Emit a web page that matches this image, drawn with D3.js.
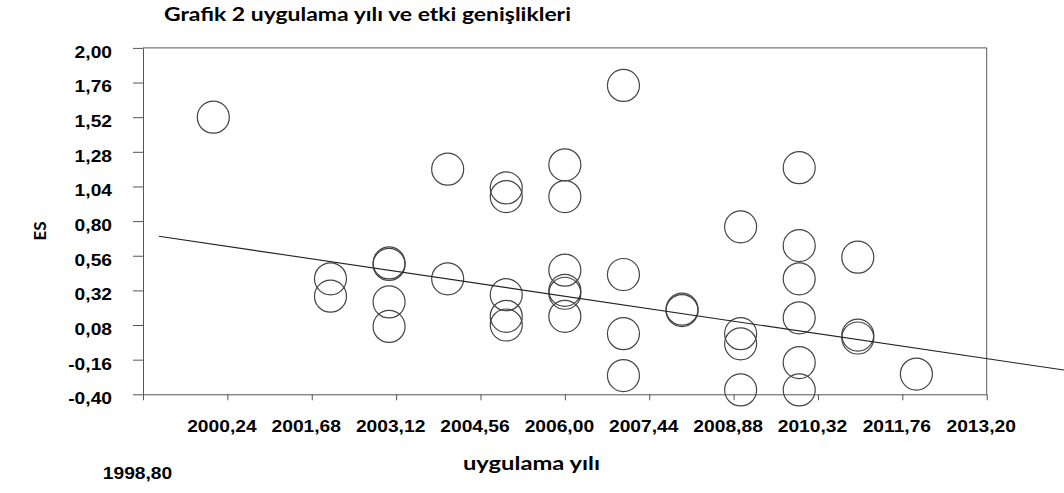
<!DOCTYPE html>
<html>
<head>
<meta charset="utf-8">
<script src="https://cdn.jsdelivr.net/npm/d3@7"></script>
<style>
  html, body { margin: 0; padding: 0; background: #fff; }
  svg { display: block; }
</style>
</head>
<body>
<svg id="chart" width="1064" height="493"></svg>
<script>
// ---- data ----
const titleText = "Grafik 2 uygulama yılı ve etki genişlikleri";
const xTitleText = "uygulama yılı";
const yTitleText = "ES";

const years = [2000,
  2002, 2002,
  2003, 2003, 2003, 2003,
  2004, 2004,
  2005, 2005, 2005, 2005, 2005,
  2006, 2006, 2006, 2006, 2006, 2006,
  2007, 2007, 2007, 2007,
  2008, 2008,
  2009, 2009, 2009, 2009,
  2010, 2010, 2010, 2010, 2010, 2010,
  2011, 2011, 2011,
  2012];
const es = [1.52,
  0.40, 0.28,
  0.51, 0.50, 0.24, 0.07,
  1.16, 0.40,
  1.03, 0.97, 0.29, 0.14, 0.08,
  1.19, 0.97, 0.46, 0.32, 0.30, 0.14,
  1.74, 0.43, 0.02, -0.27,
  0.19, 0.18,
  0.76, 0.02, -0.05, -0.37,
  1.17, 0.63, 0.40, 0.13, -0.18, -0.37,
  0.55, 0.01, -0.01,
  -0.26];

// fitted regression line end points (as drawn in the reference)
const trendX = [1999.07, 2014.52];
const trendY = [0.695, -0.232];

const xTicks = [1998.80, 2000.24, 2001.68, 2003.12, 2004.56, 2006.00, 2007.44, 2008.88, 2010.32, 2011.76, 2013.20];
const xTickLabels = ["1998,80", "2000,24", "2001,68", "2003,12", "2004,56", "2006,00", "2007,44", "2008,88", "2010,32", "2011,76", "2013,20"];
const yTicks = [-0.40, -0.16, 0.08, 0.32, 0.56, 0.80, 1.04, 1.28, 1.52, 1.76, 2.00];
const yTickLabels = ["-0,40", "-0,16", "0,08", "0,32", "0,56", "0,80", "1,04", "1,28", "1,52", "1,76", "2,00"];

// ---- layout ----
const svg = d3.select("#chart");
const plot = { left: 143, right: 986.7, top: 47.9, bottom: 394.3 };

const x = d3.scaleLinear().domain([xTicks[0], xTicks[xTicks.length - 1]]).range([plot.left, plot.right]);
const y = d3.scaleLinear().domain([yTicks[0], yTicks[yTicks.length - 1]]).range([plot.bottom, plot.top]);

const axisColor = "#555";
const tickFont = "'Liberation Sans', Arial, sans-serif";
const titleFont = "Lato, 'Open Sans', sans-serif";

function stretch(sel, k) {
  sel.each(function () {
    const L = this.getComputedTextLength();
    this.setAttribute("textLength", (L * k).toFixed(2));
    this.setAttribute("lengthAdjust", "spacingAndGlyphs");
  });
}

// frame: top and right borders
svg.append("line").attr("x1", plot.left).attr("x2", plot.right).attr("y1", plot.top).attr("y2", plot.top)
  .attr("stroke", axisColor).attr("stroke-width", 1);
svg.append("line").attr("x1", plot.right).attr("x2", plot.right).attr("y1", plot.top).attr("y2", plot.bottom)
  .attr("stroke", axisColor).attr("stroke-width", 1);

// x axis
const xAxis = d3.axisBottom(x).tickValues(xTicks).tickSize(6).tickSizeOuter(0)
  .tickFormat((d, i) => xTickLabels[i]);
const gx = svg.append("g").attr("transform", `translate(0,${plot.bottom})`).call(xAxis);
gx.select(".domain").attr("stroke", axisColor);
gx.selectAll(".tick line").attr("stroke", axisColor);
gx.selectAll(".tick text")
  .attr("font-family", tickFont).attr("font-weight", "bold").attr("font-size", 17)
  .attr("fill", "#000")
  .attr("x", -6).attr("dy", 0).attr("y", 38)
  .attr("text-anchor", "middle");
// first tick label sits lower in the reference
gx.selectAll(".tick").filter((d, i) => i === 0).select("text").attr("y", 85);
stretch(gx.selectAll(".tick text"), 1.13);

// y axis
const yAxis = d3.axisLeft(y).tickValues(yTicks).tickSize(10).tickSizeOuter(0)
  .tickFormat((d, i) => yTickLabels[i]);
const gy = svg.append("g").attr("transform", `translate(${plot.left},0)`).call(yAxis);
gy.select(".domain").attr("stroke", axisColor);
gy.selectAll(".tick line").attr("stroke", axisColor);
gy.selectAll(".tick text")
  .attr("font-family", tickFont).attr("font-weight", "bold").attr("font-size", 17)
  .attr("fill", "#000")
  .attr("x", -31).attr("dy", "0.32em").attr("y", 4)
  .attr("text-anchor", "end");
stretch(gy.selectAll(".tick text"), 1.13);

// points
const pts = years.map((yr, i) => ({ yr, v: es[i] }));
svg.append("g").selectAll("circle").data(pts).join("circle")
  .attr("cx", d => x(d.yr)).attr("cy", d => y(d.v)).attr("r", 16)
  .attr("fill", "none").attr("stroke", "#444").attr("stroke-width", 1.2);

// regression line
svg.append("line")
  .attr("x1", x(trendX[0])).attr("y1", y(trendY[0]))
  .attr("x2", x(trendX[1])).attr("y2", y(trendY[1]))
  .attr("stroke", "#222").attr("stroke-width", 1.1);

// titles
const t = svg.append("text").attr("x", 164).attr("y", 21)
  .attr("font-family", titleFont).attr("font-weight", "bold").attr("font-size", 19)
  .attr("fill", "#000").text(titleText);
t.attr("textLength", 407).attr("lengthAdjust", "spacingAndGlyphs");

const xt = svg.append("text").attr("x", 463).attr("y", 470)
  .attr("font-family", titleFont).attr("font-weight", "bold").attr("font-size", 19)
  .attr("fill", "#000").text(xTitleText);
xt.attr("textLength", 137).attr("lengthAdjust", "spacingAndGlyphs");

svg.append("text")
  .attr("transform", "translate(46,231) rotate(-90)")
  .attr("text-anchor", "middle")
  .attr("font-family", titleFont).attr("font-weight", "bold").attr("font-size", 17)
  .attr("fill", "#000").text(yTitleText);
</script>
</body>
</html>
